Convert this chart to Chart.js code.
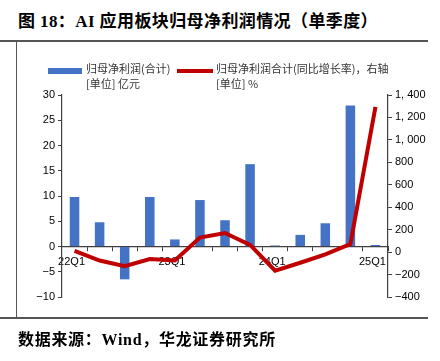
<!DOCTYPE html>
<html>
<head>
<meta charset="utf-8">
<script src="https://cdn.jsdelivr.net/npm/chart.js@4"></script>
<style>
  html, body { margin: 0; padding: 0; background: #fff; }
  body { width: 440px; height: 361px; position: relative; overflow: hidden; }
  #title { position: absolute; left: 18px; top: 7px; font: bold 17px "Liberation Serif", "Noto Sans CJK SC", serif; letter-spacing: 0.4px; color: #000; white-space: nowrap; }
  #source { position: absolute; left: 18px; top: 326px; font: bold 16px "Liberation Serif", "Noto Sans CJK SC", serif; letter-spacing: 0.7px; color: #000; white-space: nowrap; }
  .rule { position: absolute; background: #555; }
  .leg { position: absolute; font: 11px "Noto Sans CJK SC", sans-serif; color: #333; line-height: 15px; white-space: nowrap; }
  .sw { position: absolute; }
  #wrap { position: absolute; left: 0; top: 0; width: 440px; height: 361px; }
</style>
</head>
<body>
<div id="title">图 18：AI 应用板块归母净利润情况（单季度）</div>
<div class="rule" style="left:0;top:40px;width:428px;height:1.5px"></div>
<div class="rule" style="left:16px;top:40px;width:1.2px;height:278px"></div>
<div class="rule" style="left:0;top:317px;width:428px;height:1.5px"></div>

<div id="wrap"><canvas id="chart" width="440" height="361"></canvas></div>

<div class="sw" style="left:48px;top:68px;width:34px;height:6px;background:#4472C4"></div>
<div class="leg" style="left:86px;top:61px">归母净利润(合计)<br>[单位] 亿元</div>
<div class="sw" style="left:177px;top:69px;width:36px;height:4px;background:#C00000"></div>
<div class="leg" style="left:216px;top:61px">归母净利润合计(同比增长率)，右轴<br>[单位] %</div>

<div id="source">数据来源：Wind，华龙证券研究所</div>

<script>
// quarters 22Q1 .. 25Q1
const quarters = ['22Q1', '22Q2', '22Q3', '22Q4', '23Q1', '23Q2', '23Q3', '23Q4', '24Q1', '24Q2', '24Q3', '24Q4', '25Q1'];
// 归母净利润(合计), 亿元
const profit = [9.8, 4.8, -6.5, 9.8, 1.4, 9.2, 5.2, 16.3, 0.2, 2.3, 4.6, 27.9, 0.3];
// 同比增长率, %
const growth = [10, -75, -125, -62, -75, 130, 170, 65, -165, -95, -20, 72, 1295];
const leftTicks = [-10, -5, 0, 5, 10, 15, 20, 25, 30];
const rightTicks = [-400, -200, 0, 200, 400, 600, 800, 1000, 1200, 1400];

const axisColor = '#404040';
const tickFont = { family: 'Liberation Sans, Arial, sans-serif', size: 11 };

function minus(v) {
    return v < 0 ? '\u2212' + Math.abs(v) : String(v);
}
function thousands(v) {
    if (Math.abs(v) >= 1000) {
        return Math.floor(v / 1000) + ', ' + String(v % 1000).padStart(3, '0');
    }
    return minus(v);
}

const ctx = document.getElementById('chart').getContext('2d');
new Chart(ctx, {
    data: {
        labels: quarters,
        datasets: [{
            type: 'line',
            label: '归母净利润合计(同比增长率)，右轴',
            data: growth,
            yAxisID: 'y1',
            borderColor: '#C00000',
            borderWidth: 4,
            pointRadius: 0,
            tension: 0,
            order: 0
        }, {
            type: 'bar',
            label: '归母净利润(合计)',
            data: profit,
            yAxisID: 'y',
            backgroundColor: '#4472C4',
            categoryPercentage: 1,
            barPercentage: 0.38,
            order: 1
        }]
    },
    options: {
        responsive: false,
        animation: false,
        layout: { padding: { left: 0, right: 0, top: 95, bottom: 64 } },
        plugins: { legend: { display: false }, tooltip: { enabled: false } },
        scales: {
            x: {
                position: { y: 0 },
                afterFit: s => { s.height = 0; },
                grid: { offset: true, drawOnChartArea: false, tickLength: 4, color: axisColor, lineWidth: 1 },
                border: { color: axisColor, width: 1.2 },
                ticks: {
                    autoSkip: false, maxRotation: 0, padding: 5, labelOffset: -3,
                    color: '#000', font: tickFont,
                    callback: (v, i) => (i % 4 === 0 ? quarters[i] : '')
                }
            },
            y: {
                position: 'left',
                min: -10, max: 30,
                afterFit: s => { s.width = 62; },
                afterBuildTicks: s => { s.ticks = leftTicks.map(v => ({ value: v })); },
                grid: { drawOnChartArea: false, tickLength: 4, color: axisColor },
                border: { color: axisColor, width: 1.2 },
                ticks: { color: '#000', font: tickFont, padding: 3, callback: v => minus(v) }
            },
            y1: {
                position: 'right',
                min: -400, max: 1400,
                afterFit: s => { s.width = 52; },
                afterBuildTicks: s => { s.ticks = rightTicks.map(v => ({ value: v })); },
                grid: { drawOnChartArea: false, tickLength: 4, color: axisColor },
                border: { color: axisColor, width: 1.2 },
                ticks: { color: '#000', font: tickFont, padding: 3, callback: v => thousands(v) }
            }
        }
    }
});
</script>
</body>
</html>
